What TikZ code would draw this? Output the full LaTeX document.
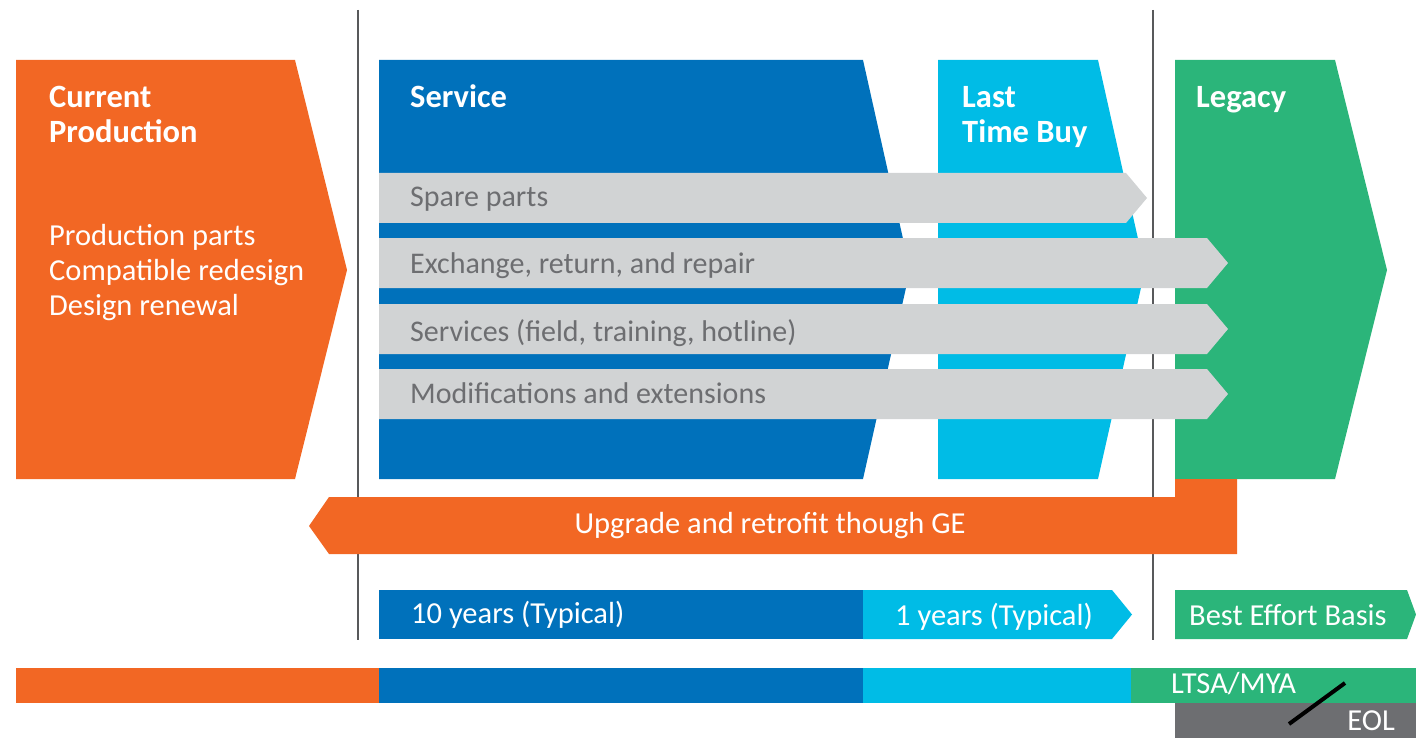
\documentclass[tikz,border=0pt]{standalone}
\usepackage{fontspec}
\setmainfont{Carlito}
\definecolor{georange}{RGB}{242,103,36}
\definecolor{geblue}{RGB}{0,113,187}
\definecolor{gelight}{RGB}{0,188,230}
\definecolor{gegreen}{RGB}{43,181,122}
\definecolor{barg}{RGB}{209,211,212}
\definecolor{txtgray}{RGB}{109,110,113}
\definecolor{lineg}{RGB}{88,89,91}
\definecolor{eolg}{RGB}{109,110,113}
\tikzset{
  hd/.style={anchor=base west, text=white, inner sep=0, align=left, font=\fontsize{32.5}{35}\selectfont\bfseries},
  bd/.style={anchor=base west, text=white, inner sep=0, align=left, font=\fontsize{30.5}{35}\selectfont},
  gl/.style={anchor=base west, text=txtgray, inner sep=0, font=\fontsize{30}{34}\selectfont},
  wl/.style={anchor=base west, text=white, inner sep=0, font=\fontsize{30.5}{34}\selectfont},
  vline/.style={draw=lineg, line width=2.5pt},
}
\begin{document}
\begin{tikzpicture}[x=1pt,y=-1pt]
\useasboundingbox (0,0) rectangle (1416,738);
% divider lines
\coordinate (l1t) at (358,10); \coordinate (l1b) at (358,640);
\coordinate (l2t) at (1153,10); \coordinate (l2b) at (1153,640);
\draw[vline] (l1t) -- (l1b);
\draw[vline] (l2t) -- (l2b);
% phase shapes
\fill[georange] (16,60) -- (295,60) -- (347,270) -- (295,479) -- (16,479) -- cycle;
\fill[geblue] (379,60) -- (863,60) -- (910,270) -- (863,479) -- (379,479) -- cycle;
\fill[gelight] (938,60) -- (1098,60) -- (1145,270) -- (1098,479) -- (938,479) -- cycle;
\fill[gegreen] (1175,60) -- (1335,60) -- (1387,270) -- (1335,479) -- (1175,479) -- cycle;
% gray bars
\fill[barg] (379,173) -- (1126,173) -- (1147,198) -- (1126,223) -- (379,223) -- cycle;
\fill[barg] (379,238) -- (1207,238) -- (1228,263) -- (1207,288) -- (379,288) -- cycle;
\fill[barg] (379,304) -- (1207,304) -- (1228,329) -- (1207,354) -- (379,354) -- cycle;
\fill[barg] (379,369) -- (1207,369) -- (1228,394) -- (1207,419) -- (379,419) -- cycle;
% upgrade arrow
\fill[georange] (1175,479) -- (1237,479) -- (1237,554) -- (329,554) -- (309,526) -- (329,497) -- (1175,497) -- cycle;
% durations
\fill[geblue] (379,590) rectangle (863,639);
\fill[gelight] (863,590) -- (1112,590) -- (1132,614.5) -- (1112,639) -- (863,639) -- cycle;
\fill[gegreen] (1175,590) -- (1407,590) -- (1416,614.5) -- (1407,639) -- (1175,639) -- cycle;
% bottom timeline
\fill[georange] (16,668) rectangle (379,703);
\fill[geblue] (379,668) rectangle (863,703);
\fill[gelight] (863,668) rectangle (1131,703);
\fill[gegreen] (1131,668) rectangle (1416,703);
\fill[eolg] (1175,703) rectangle (1416,738);
\coordinate (s1) at (1289,724); \coordinate (s2) at (1345,683);
\draw[black, line width=4pt] (s1) -- (s2);
% texts (base anchor of a multi-line node is its last line)
\node[hd] (tcur) at (49,143) {Current\\Production};
\node[bd] (tcurb) at (49,315) {Production parts\\Compatible redesign\\Design renewal};
\node[hd] (tsvc) at (410,108) {Service};
\node[hd] (tltb) at (962,143) {Last\\Time Buy};
\node[hd] (tleg) at (1196,108) {Legacy};
\node[gl] (g1) at (410,207) {Spare parts};
\node[gl] (g2) at (410,273) {Exchange, return, and repair};
\node[gl] (g3) at (410,341) {Services (field, training, hotline)};
\node[gl] (g4) at (410,403) {Modifications and extensions};
\node[wl, anchor=base] (up) at (770,533) {Upgrade and retrofit though GE};
\node[wl] (d1) at (411,623) {10 years (Typical)};
\node[wl] (d2) at (895,625) {1 years (Typical)};
\node[wl] (d3) at (1189,625) {Best Effort Basis};
\node[wl] (ltsa) at (1171,693) {LTSA/MYA};
\node[wl, anchor=base east] (eol) at (1395,730) {EOL};
\end{tikzpicture}
\end{document}
